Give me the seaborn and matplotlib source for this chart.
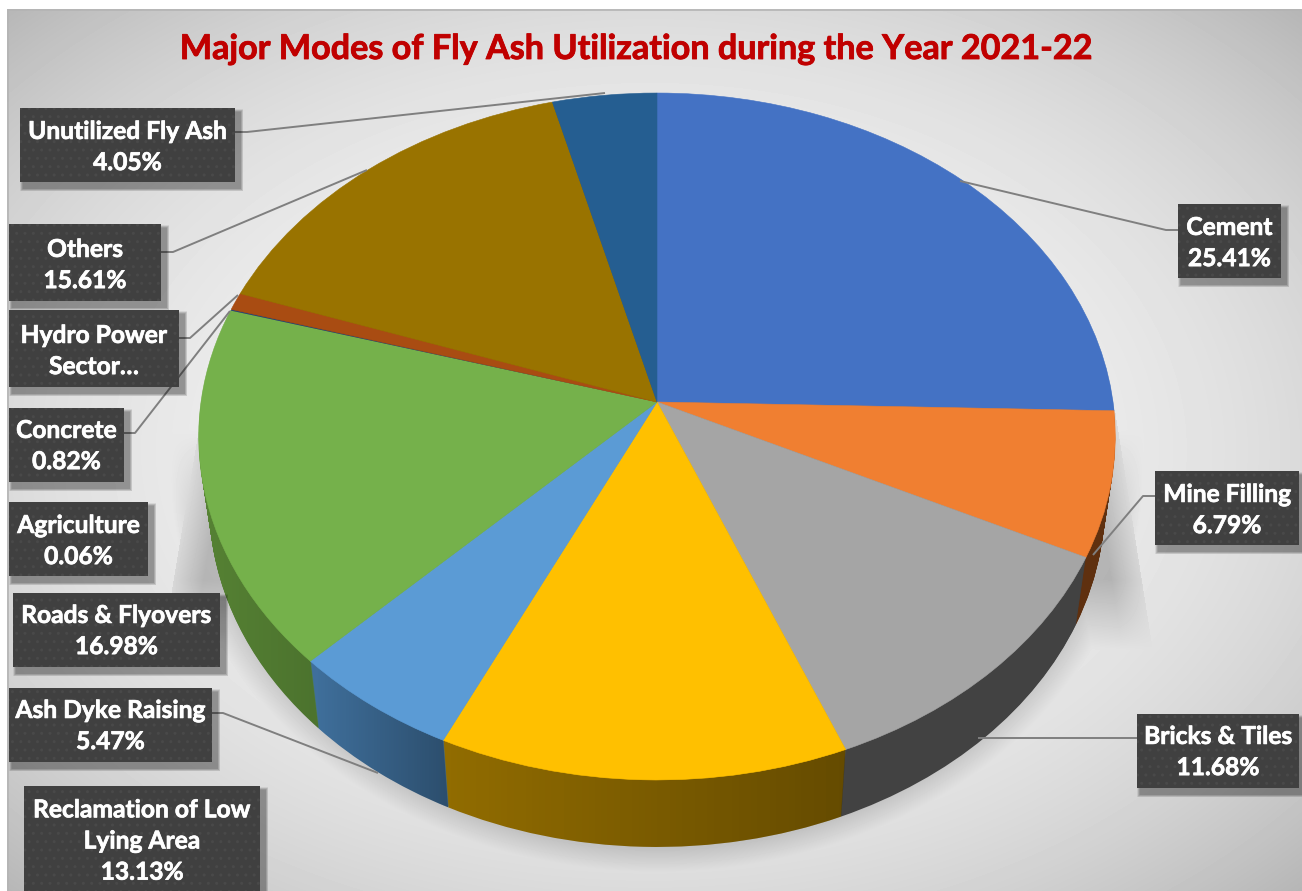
import numpy as np
import seaborn as sns
import matplotlib
matplotlib.use('Agg')
import matplotlib.pyplot as plt
import matplotlib.patheffects as pe
from matplotlib.patches import Rectangle
from matplotlib.path import Path
from matplotlib.transforms import Transform

# Chart values
modes = ['Cement', 'Mine Filling', 'Bricks & Tiles', 'Reclamation of Low\nLying Area',
         'Ash Dyke Raising', 'Roads & Flyovers', 'Agriculture', 'Concrete',
         'Hydro Power\nSector…', 'Others', 'Unutilized Fly Ash']
shares = [25.41, 6.79, 11.68, 13.13, 5.47, 16.98, 0.06, 0.82, 0.00, 15.61, 4.05]
show_value = [True, True, True, True, True, True, True, True, False, True, True]
top_colors = ['#4472C4', '#F07F31', '#A5A5A5', '#FFC000', '#5B9BD5', '#75B14B',
              '#264478', '#A94C12', '#636363', '#997300', '#255E91']
wall_colors = ['#2E4D86', '#5F300F', '#424242', '#916C00', '#3F6F9B', '#568234',
               '#1A2E52', '#6B300C', '#424242', '#685000', '#193F63']
title = 'Major Modes of Fly Ash Utilization during the Year 2021-22'

# Label box x0, x1, y0, y1 in pixels
boxes = [(1178, 1281, 204, 278), (1155, 1299, 471, 545), (1137, 1299, 714, 788),
         (24, 260, 786, 896), (9, 212, 688, 762), (13, 220, 593, 667),
         (9, 148, 502, 576), (9, 124, 408, 482), (9, 179, 310, 387),
         (9, 161, 224, 301), (20, 235, 108, 182)]
text_y = [243, 510, 752, 841, 726, 631, 541, 446, 351, 265, 147]
leaders = [[(1178, 230), (1166, 230), (960, 181)], [(1155, 496), (1143, 496), (1093, 555)],
           [(1137, 738), (978, 738)], None, [(212, 713), (223, 713), (378, 773)],
           None, None, [(124, 433), (135, 433), (230, 311)],
           [(179, 338), (190, 338), (238, 295)], [(161, 252), (173, 252), (367, 170)],
           [(235, 132), (247, 132), (605, 93)]]


class TiltedDisk(Transform):
    # unit pie to pixels, with the near side drawn larger
    input_dims = 2
    output_dims = 2
    has_inverse = False

    def __init__(self, drop=0.0, squeeze=1.0):
        super().__init__()
        self.drop = drop
        self.squeeze = squeeze

    def transform_non_affine(self, values):
        u, v = np.asarray(values).T
        den = 1 + 0.1004 * v
        return np.column_stack([657 + 456 * self.squeeze * u / den,
                                402 + self.drop - 340 * v / den])


sns.set_theme(style='white')
plt.rcParams['font.family'] = ['Lato', 'DejaVu Sans']

fig = plt.figure(figsize=(13.02, 8.91), dpi=100, facecolor='white')
ax = fig.add_axes([0, 0, 1, 1])

# Background gradient plus the soft shadow under the pie
xx, yy = np.meshgrid(np.arange(7, 1302) + 0.5, np.arange(9, 891) + 0.5)
d2 = (((xx - 650) / 645) ** 2 + ((yy - 450) / 441) ** 2) / 2
bg = 0.955 - 0.24 * d2 ** 1.3
el = np.sqrt(((xx - 657) / 487) ** 2 + ((yy - 468) / 404) ** 2)
shade = 0.21 * np.clip((1 - el) / 0.1, 0, 1) * np.clip((yy - 430) / 80, 0, 1)
x_right = 1115 + (yy - 410) * 30 / 190
x_left = 198 - (yy - 435) * 26 / 155
side = np.where((xx < x_right) & (xx > x_left) & (yy > 410), 1.0, 0.0)
edge = np.minimum(np.clip((x_right - xx) / 30, 0, 1), np.clip((xx - x_left) / 30, 0, 1))
side = side * (0.06 + 0.14 * edge) * np.clip((650 - yy) / 70, 0, 1)
bg = bg - np.maximum(shade, side)
ax.imshow(bg, cmap='gray', vmin=0, vmax=1, extent=(7, 1302, 891, 9),
          aspect='auto', interpolation='bilinear', zorder=0)
ax.plot([7.5, 7.5, 1301], [891, 9.5, 9.5], color='#b4b4b4', lw=1.2, zorder=1)

# Side wall, stacked from the bottom up, then the top face
depth = 67
low_disk = TiltedDisk(depth, 1 - 0.023)
high_disk = TiltedDisk()
for step in range(depth, 0, -1):
    wall, _ = ax.pie(shares, colors=wall_colors, startangle=90, counterclock=False)
    tr = TiltedDisk(step, 1 - 0.023 * step / depth) + ax.transData
    for w in wall:
        w.set_transform(tr)
        w.set_zorder(2)
        w.set_linewidth(0)

# Darkening along the wall, left to right, for the yellow, blue and green parts
ramps = {3: (445, 845, 0.30), 4: (315, 450, 0.30), 5: (200, 320, 0.12)}
for i, (x0, x1, strength) in ramps.items():
    ramp = np.zeros((2, 64, 4))
    ramp[:, :, 3] = np.linspace(0, strength, 64)
    im = ax.imshow(ramp, extent=(x0, x1, 891, 300), aspect='auto', zorder=3)
    # clip to the strip between the top rim and the bottom rim of this slice
    th = np.radians(np.linspace(wall[i].theta1, wall[i].theta2, 60))
    rim = np.column_stack([np.cos(th), np.sin(th)])
    strip = np.vstack([high_disk.transform(rim), low_disk.transform(rim)[::-1]])
    im.set_clip_path(Path(np.vstack([strip, strip[:1]]), closed=True), ax.transData)

wedges, _ = ax.pie(shares, colors=top_colors, startangle=90, counterclock=False)
tr = high_disk + ax.transData
for w, share in zip(wedges, shares):
    w.set_transform(tr)
    w.set_zorder(4)
    w.set_edgecolor(w.get_facecolor())
    w.set_linewidth(0.4 if share > 0.5 else 0)

ax.set_aspect('auto')
ax.set_xlim(0, 1302)
ax.set_ylim(891, 0)
ax.axis('off')

# Leader lines, then the label boxes
for pts in leaders:
    if pts is not None:
        ax.plot(*zip(*pts), color='#7f7f7f', lw=1.4, zorder=5, solid_capstyle='butt')

thick = [pe.withStroke(linewidth=0.5, foreground='white')]
for name, share, shown, box, y in zip(modes, shares, show_value, boxes, text_y):
    x0, x1, y0, y1 = box
    for grow in range(6, 0, -1):
        ax.add_patch(Rectangle((x0 + 3 - grow / 2, y0 + 4 - grow / 2), x1 - x0 + grow + 2,
                               y1 - y0 + grow + 2, fc='black', ec='none', alpha=0.07, zorder=6))
    ax.add_patch(Rectangle((x0, y0), x1 - x0, y1 - y0, fc='#404040', ec='#494949',
                           lw=0, hatch='..', zorder=7))
    label = f'{name}\n{share:.2f}%' if shown else name
    ax.text((x0 + x1) / 2, y, label, ha='center', va='center', color='white',
            fontsize=17.7, fontweight='bold', linespacing=1.43, zorder=8, path_effects=thick)

ax.text(636, 49, title, ha='center', va='center', color='#C00000', fontsize=24.6,
        fontweight='bold', zorder=8,
        path_effects=[pe.withStroke(linewidth=0.6, foreground='#C00000')])

fig.savefig('out.png', dpi=100, facecolor='white')
